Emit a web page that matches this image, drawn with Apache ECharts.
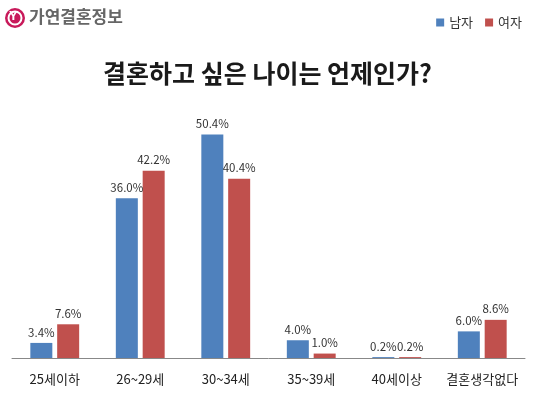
<!DOCTYPE html>
<html><head><meta charset="utf-8">
<script src="https://cdn.jsdelivr.net/npm/echarts@6/dist/echarts.min.js"></script>
<style>html,body{margin:0;padding:0;background:#fff}#c{width:535px;height:396px}</style>
</head><body><div id="c"></div>
<script>
const categories = ['25세이하','26~29세','30~34세','35~39세','40세이상','결혼생각없다'];
const male = [3.4, 36.0, 50.4, 4.0, 0.2, 6.0];
const female = [7.6, 42.2, 40.4, 1.0, 0.2, 8.6];
const seriesNames = ['남자','여자'];
const titleText = '결혼하고 싶은 나이는 언제인가?';
const brandText = '가연결혼정보';

const chart = echarts.init(document.getElementById('c'));
const font = '"Noto Sans CJK KR", sans-serif';
const lbl = {show:true, position:'top', distance:5, formatter: p => p.value.toFixed(1)+'%', fontSize:11.5, color:'#333', fontFamily:font};
chart.setOption({
  animation:false,
  textStyle:{fontFamily:font},
  title:{text:titleText, left:'center', top:56, textStyle:{fontSize:25, fontWeight:'bold', color:'#1a1a1a', fontFamily:font}},
  legend:{data:seriesNames, right:8, top:11, itemWidth:8, itemHeight:8, itemGap:12, icon:'rect', textStyle:{fontSize:13, color:'#333', fontFamily:font}},
  grid:{left:12, right:10, top:114, bottom:38},
  xAxis:{type:'category', data:categories, axisLine:{lineStyle:{color:'#888'}}, axisTick:{show:false}, axisLabel:{interval:0, fontSize:13, color:'#222', margin:15, fontFamily:font}},
  yAxis:{type:'value', min:0, max:55, show:false, splitLine:{show:false}},
  series:[
    {name:seriesNames[0], type:'bar', data:male, barWidth:22, barGap:'22%', itemStyle:{color:'#4F81BD'}, label:lbl},
    {name:seriesNames[1], type:'bar', data:female, barWidth:22, itemStyle:{color:'#C0504D'}, label:lbl}
  ],
  graphic:[
    {type:'circle', shape:{cx:15, cy:18, r:10}, style:{fill:'#C8195A'}},
    {type:'circle', shape:{cx:15, cy:18, r:6.5}, style:{fill:'none', stroke:'#fff', lineWidth:2}},
    {type:'text', left:9, top:10, style:{text:'Y', fill:'#fff', font:'bold 13px sans-serif'}},
    {type:'text', left:29, top:8, style:{text:brandText, fill:'#666', font:'bold 17px "Noto Sans CJK KR"'}}
  ]
});
</script></body></html>
